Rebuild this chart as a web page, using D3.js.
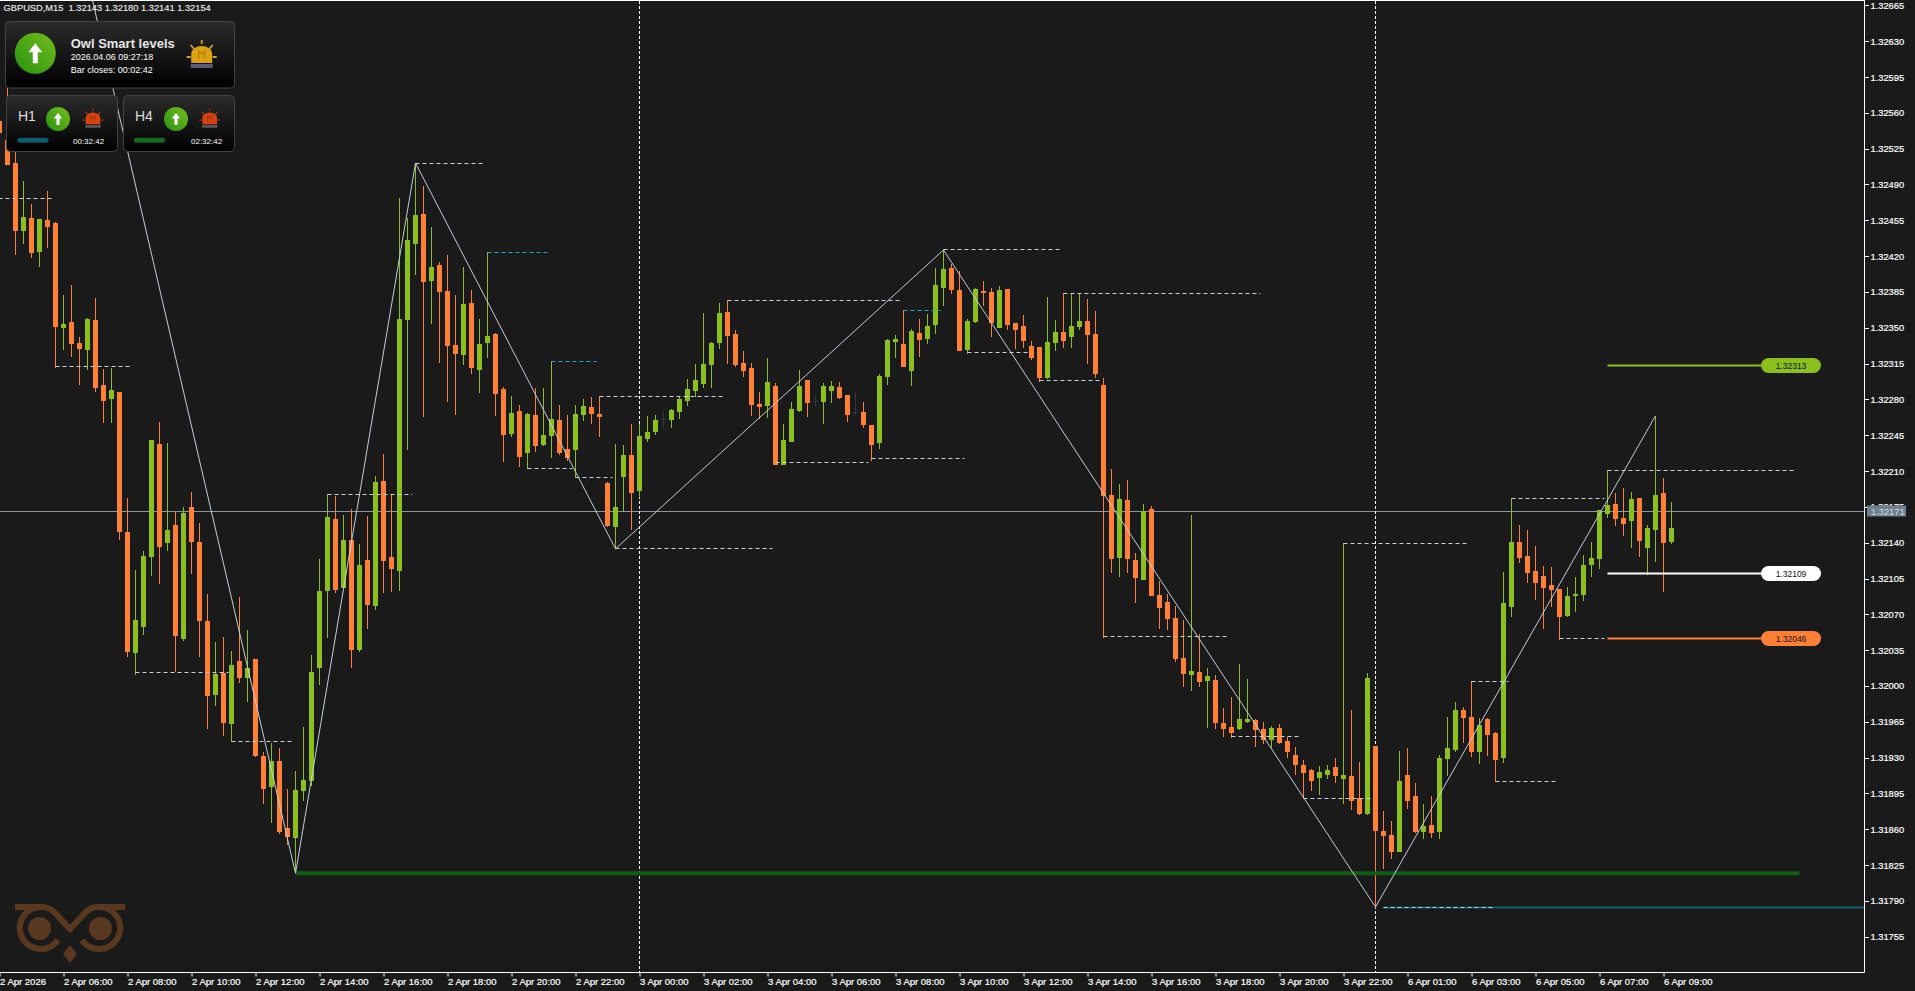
<!DOCTYPE html>
<html><head><meta charset="utf-8">
<script src="https://cdnjs.cloudflare.com/ajax/libs/d3/7.8.5/d3.min.js"></script>
<style>html,body{margin:0;padding:0;background:#1a1a1a;overflow:hidden}svg{display:block}text{font-family:"Liberation Sans",Arial,sans-serif}</style>
</head><body><svg id="c" width="1915" height="991"></svg>
<script>
// All prices below are points above 1.32000 (1 point = 0.00001)
const priceBase = 1.32, pointSize = 0.00001;
const firstBar = -1;
const directions = ("o o o g o g o o g o " + "o g o o g o o g g g " + "o g o g o o o g o g " + "o g o o g o o g g g " +
 "g g o g o g o g o o " + "g g g o g o o o g o " + "g g o o g o g o g g " + "o o g g o o o g g o " +
 "g g g d g g g g g g " + "g o o o o o g o g g " + "g o d g g o o d o o " + "g g g o g o g g g o " +
 "o g g o o g o o o o " + "o g g o g g o o o o " + "g o o g o o o o o g " + "o g o o o g g o o g " +
 "o o o o o g g o g o " + "o g o o o g o o g o " + "g g g o o g o o g g " + "o o o o o o g g g g " +
 "g g o o g o g g o g").trim().split(" ");
const highs = [558,584,522,493,471,456,484,453,382,392,
341,360,379,310,311,287,184,113,132,240,
258,237,171,175,190,159,90,43,48,34,
87,55,26,-65,-56,-61,-101,-83,-40,30,
124,188,186,167,173,139,166,205,227,187,
477,457,511,489,448,414,421,382,409,387,
359,424,345,292,283,275,267,291,291,318,
275,265,275,280,282,283,199,236,235,256,
256,264,265,269,271,282,300,315,364,336,
374,377,348,327,316,287,320,296,256,277,
309,299,284,296,298,297,284,288,277,255,
305,339,343,367,349,359,363,408,426,412,
405,359,389,396,389,391,388,355,362,337,
331,380,358,384,384,384,378,366,301,212,
197,201,130,178,176,103,90,78,64,167,
51,18,11,-22,-11,21,7,-32,-35,-39,
-37,-50,-60,-72,-81,-78,-77,-70,140,-23,
-74,13,-59,-122,-132,-64,-61,-95,-115,-108,
-67,-30,-16,-21,5,-31,-31,-45,111,184,
157,152,137,117,116,95,97,106,128,141,
172,211,189,193,190,184,157,264,203,180];
const bodyTops = [552,533,511,458,457,456,455,452,354,356,
335,359,358,294,289,287,150,64,127,240,
236,152,157,169,175,141,63,12,13,20,
24,18,26,-68,-73,-73,-139,-102,-92,14,
93,165,163,143,143,118,123,199,200,126,
359,436,460,461,409,411,386,333,373,374,
334,342,344,290,267,269,266,265,245,261,
260,232,266,274,273,266,198,175,226,226,
244,248,260,261,270,280,290,299,315,335,
364,365,344,316,311,276,297,293,240,271,
293,299,278,293,293,292,284,268,268,255,
303,338,339,334,347,345,352,392,407,408,
387,357,388,386,385,387,388,355,352,332,
331,336,346,346,352,357,357,344,294,187,
183,182,123,171,173,89,82,66,27,15,
14,10,6,-36,-40,-32,-32,-33,-42,-41,
-41,-54,-67,-77,-82,-84,-82,-79,-87,-88,
-109,8,-59,-142,-146,-93,-87,-108,-137,-136,
-70,-61,-23,-23,-30,-38,-32,-46,81,141,
141,127,112,107,99,95,88,90,118,125,
172,177,178,164,183,184,154,187,189,154];
const bodyBottoms = [541,510,446,446,424,425,449,352,351,335,
330,329,292,279,281,151,34,33,59,127,
137,141,50,47,142,64,-9,-8,-35,-36,
9,9,-67,-100,-98,-142,-147,-148,-102,-92,
19,94,95,97,36,36,80,79,123,115,
113,359,433,396,397,386,333,325,324,312,
310,336,286,246,247,225,229,235,236,245,
229,224,232,266,267,264,157,156,205,190,
191,242,249,261,261,269,279,289,296,315,
336,343,315,309,276,274,275,217,217,239,
270,277,278,278,289,282,266,268,256,236,
238,303,337,313,309,339,340,354,390,388,
328,329,357,385,356,351,354,349,338,321,
302,302,336,338,342,352,344,306,187,125,
126,125,106,105,89,77,66,27,13,12,
5,6,-35,-41,-45,-41,-34,-42,-52,-52,
-55,-64,-76,-84,-92,-89,-86,-87,-90,-111,
-124,-124,-141,-146,-161,-161,-111,-142,-142,-143,
-142,-70,-62,-30,-64,-64,-47,-71,-69,78,
126,111,102,97,95,68,69,89,90,119,
125,169,164,159,162,143,136,153,141,142];
const lows = [533,510,422,433,419,410,429,312,329,322,
295,310,288,258,258,144,29,12,51,108,
101,133,15,45,110,29,-41,-19,-48,-54,
4,-15,-68,-114,-133,-144,-154,-182,-111,-97,
2,48,92,97,19,34,57,75,92,93,
94,232,403,264,355,317,278,266,315,306,
287,321,265,220,244,215,213,230,235,224,
227,221,204,260,257,244,156,135,171,153,
185,239,246,252,253,262,275,283,292,292,
330,316,313,303,265,262,263,217,217,239,
269,264,275,257,277,281,259,266,253,221,
233,295,321,313,294,322,335,345,372,384,
328,325,356,372,342,351,349,330,331,319,
298,301,328,331,331,349,316,302,48,111,
107,111,82,105,89,57,56,24,0,-4,
0,-40,-41,-49,-50,-42,-35,-59,-56,-60,
-56,-69,-86,-109,-102,-106,-90,-94,-114,-120,
-125,-125,-216,-178,-168,-161,-119,-143,-149,-148,
-149,-87,-64,-55,-68,-75,-67,-93,-74,68,
121,102,85,57,78,46,68,73,84,107,
115,165,157,148,136,127,109,122,93,140];
const zigzagBars = [10,36,51,76,117,171,206];
const zigzagPrices = [691,-183,511,134,426,-216,264];
const levelStart = [-2,6,16,28,40,51,65,71,74,90,76,96,108,117,120,129,132,137,153,162,167,172,183,186,188,200,194];
const levelEnd   = [6,16,28,36,51,60,71,76,90,112,96,108,120,132,128,137,157,153,162,171,183,186,188,194,200,224,200];
const levelPrice = [477,313,14,-54,188,511,213,204,283,377,135,219,223,427,326,299,384,49,-49,-109,140,-216,5,-93,184,211,47];
const blueStart = [60,68,112];
const blueEnd = [68,74,117];
const bluePrice = [424,318,367];
const priceTickLabels = ["1.32665","1.32630","1.32595","1.32560","1.32525","1.32490","1.32455","1.32420","1.32385","1.32350","1.32315","1.32280","1.32245","1.32210","1.32175","1.32140","1.32105","1.32070","1.32035","1.32000","1.31965","1.31930","1.31895","1.31860","1.31825","1.31790","1.31755"];
const timeTickBars = [-1,7,15,23,31,39,47,55,63,71,79,87,95,103,111,119,127,135,143,151,159,167,175,183,191,199,207];
const timeTickLabels = ["2 Apr 2026","2 Apr 06:00","2 Apr 08:00","2 Apr 10:00","2 Apr 12:00","2 Apr 14:00","2 Apr 16:00","2 Apr 18:00","2 Apr 20:00","2 Apr 22:00","3 Apr 00:00","3 Apr 02:00","3 Apr 04:00","3 Apr 06:00","3 Apr 08:00","3 Apr 10:00","3 Apr 12:00","3 Apr 14:00","3 Apr 16:00","3 Apr 18:00","3 Apr 20:00","3 Apr 22:00","6 Apr 01:00","6 Apr 03:00","6 Apr 05:00","6 Apr 07:00","6 Apr 09:00"];
const separatorBars = [79,171];
const supportPrice = -183, supportEndBar = 224, supportStartBar = 36;
const tealPrice = -216, tealStartBar = 172;
const currentPrice = 1.32171;
const titleText = "GBPUSD,M15  1.32143 1.32180 1.32141 1.32154";
const pillValues = [1.32313,1.32109,1.32046];
const pillLabels = ["1.32313","1.32109","1.32046"];
const pillColours = ["#8abf1c","#ffffff","#ff7f35"];
const pillStartBar = 200;

const ORANGE="#ff7f35",GREEN="#8abf1c",DARK="#2d3944",BG="#1a1a1a",DASH="#c8d2dc",BLUE="#2f9fd0",ZIG="#c3cedb";
const W=1915,H=991,R=1864,B=972;
const svg=d3.select("#c");
const x=d3.scaleLinear().domain([-1,208]).range([-0.5,1671.5]);
const y=d3.scaleLinear().domain([1.31755,1.32665]).range([936.7,5.4]);
const pts=p=>priceBase+p*pointSize;
const py=p=>Math.round(y(pts(p)))+0.5;
svg.append("rect").attr("width",W).attr("height",H).attr("fill",BG);
const defs=svg.append("defs");
defs.append("clipPath").attr("id","plot").append("rect").attr("x",0).attr("y",1).attr("width",R).attr("height",B-1);
let g1=defs.append("linearGradient").attr("id","panel").attr("x1",0).attr("x2",0).attr("y1",0).attr("y2",1);
g1.append("stop").attr("offset","0").attr("stop-color","#2b2b2b");g1.append("stop").attr("offset","1").attr("stop-color","#000");
let g2=defs.append("linearGradient").attr("id","ball").attr("x1",1).attr("x2",0).attr("y1",0).attr("y2",1);
g2.append("stop").attr("offset","0").attr("stop-color","#74bd1c");g2.append("stop").attr("offset","1").attr("stop-color","#27930f");
const plot=svg.append("g").attr("clip-path","url(#plot)");
plot.append("line").attr("x1",0).attr("x2",R).attr("y1",Math.round(y(currentPrice))+.5).attr("y2",Math.round(y(currentPrice))+.5).attr("stroke","#8696a5");
plot.selectAll(".sep").data(separatorBars).join("line").attr("x1",d=>x(d)).attr("x2",d=>x(d)).attr("y1",1).attr("y2",B).attr("stroke","#fff").attr("stroke-dasharray","3,2");
const owl=plot.append("g").attr("fill","none").attr("stroke","#5a3820").attr("stroke-width",6);
owl.append("path").attr("d","M15,907 H42 Q50,907 56,914 L70,929 L84,914 Q90,907 98,907 H125");
owl.append("path").attr("d","M40,907 A21,21 0 1 0 58,940");
owl.append("path").attr("d","M100,907 A21,21 0 1 1 82,940");
owl.append("circle").attr("cx",39.5).attr("cy",928.5).attr("r",11.5).attr("fill","#5a3820").attr("stroke","none");
owl.append("circle").attr("cx",100.5).attr("cy",928.5).attr("r",11.5).attr("fill","#5a3820").attr("stroke","none");
owl.append("path").attr("d","M70,945 L77,954 L70,963 L63,954 Z").attr("fill","#5a3820").attr("stroke","none");
const bars=highs.map((h,k)=>({i:k+firstBar,h,t:bodyTops[k],b:bodyBottoms[k],l:lows[k],d:directions[k]}));
const col=d=>d.d==="o"?ORANGE:d.d==="g"?GREEN:DARK;
plot.selectAll(".w").data(bars).join("line").attr("x1",d=>x(d.i)).attr("x2",d=>x(d.i)).attr("y1",d=>py(d.h)-.5).attr("y2",d=>py(d.l)+.5).attr("stroke",col);
plot.selectAll(".b").data(bars).join("rect").attr("x",d=>x(d.i)-2.5).attr("width",5).attr("y",d=>py(d.t)-.5).attr("height",d=>Math.max(1,py(d.b)-py(d.t)+1)).attr("fill",col);
plot.append("line").attr("x1",x(supportStartBar)).attr("x2",x(supportEndBar)).attr("y1",y(pts(supportPrice))).attr("y2",y(pts(supportPrice))).attr("stroke","#0f5c14").attr("stroke-width",4);
plot.append("line").attr("x1",x(tealStartBar)).attr("x2",R).attr("y1",py(tealPrice)).attr("y2",py(tealPrice)).attr("stroke","#0e5a6e").attr("stroke-width",2);
const endGap=3;
plot.selectAll(".lv").data(levelPrice).join("line").attr("x1",(d,k)=>x(levelStart[k])).attr("x2",(d,k)=>x(levelEnd[k])-endGap).attr("y1",d=>py(d)).attr("y2",d=>py(d)).attr("stroke",DASH).attr("stroke-dasharray","4,3");
plot.selectAll(".bl").data(bluePrice).join("line").attr("x1",(d,k)=>x(blueStart[k])).attr("x2",(d,k)=>x(blueEnd[k])-endGap).attr("y1",d=>py(d)).attr("y2",d=>py(d)).attr("stroke",BLUE).attr("stroke-dasharray","4,3");
const zig=d3.line().x(d=>x(d[0])).y(d=>y(pts(d[1])));
plot.append("path").attr("d",zig(zigzagBars.map((b,k)=>[b,zigzagPrices[k]]))).attr("fill","none").attr("stroke",ZIG).attr("stroke-width",1);
const pills=plot.append("g");
pillValues.forEach((v,k)=>{const yy=Math.round(y(v))-.5;
 pills.append("line").attr("x1",x(pillStartBar)).attr("x2",1765).attr("y1",yy).attr("y2",yy).attr("stroke",pillColours[k]).attr("stroke-width",2);
 pills.append("rect").attr("x",1761).attr("y",yy-7.5).attr("width",60).attr("height",15).attr("rx",7.5).attr("fill",pillColours[k]);
 pills.append("text").attr("x",1791).attr("y",yy+3).attr("text-anchor","middle").attr("font-size",8.5).attr("fill","#111").text(pillLabels[k]);
});
const axR=d3.axisRight(y).tickValues(priceTickLabels.map(Number)).tickFormat((d,k)=>priceTickLabels[k]).tickSize(4).tickPadding(2);
const gy=svg.append("g").attr("transform",`translate(${R+.5},0)`).call(axR);
gy.select(".domain").remove();
gy.selectAll("line").attr("stroke","#fff").attr("shape-rendering","crispEdges");
gy.selectAll("text").attr("fill","#fff").attr("font-size",9.3).attr("font-family","Liberation Sans").attr("stroke","#fff").attr("stroke-width",.2);
svg.append("line").attr("x1",R+.5).attr("x2",R+.5).attr("y1",0).attr("y2",B+.5).attr("stroke","#fff");
svg.append("line").attr("x1",0).attr("x2",R+.5).attr("y1",.5).attr("y2",.5).attr("stroke","#fff");
const axB=d3.axisBottom(x).tickValues(timeTickBars).tickFormat((d,k)=>timeTickLabels[k]).tickSize(4).tickPadding(2);
const gx=svg.append("g").attr("transform",`translate(0,${B+.5})`).call(axB);
gx.select(".domain").remove();
gx.selectAll("line").attr("stroke","#fff");
gx.selectAll("text").attr("fill","#fff").attr("font-size",9.5).attr("text-anchor","start").attr("font-family","Liberation Sans").attr("stroke","#fff").attr("stroke-width",.2);
svg.append("line").attr("x1",0).attr("x2",R+.5).attr("y1",B+.5).attr("y2",B+.5).attr("stroke","#fff");
const cy=Math.round(y(currentPrice));
svg.append("rect").attr("x",1867).attr("y",cy-5.5).attr("width",39).attr("height",11).attr("fill","#6f7f8e");
svg.append("text").attr("x",1871).attr("y",cy+3.5).attr("font-size",9.3).attr("fill","#d5dbe0").text(currentPrice.toFixed(5));
svg.append("text").attr("x",3.5).attr("y",11).attr("font-size",9.3).attr("fill","#e8e8e8").attr("stroke","#e8e8e8").attr("stroke-width",.15).style("white-space","pre").text(titleText);
function alarm(g,cx,cy,s,body,mark,base,ray){
 const a=g.append("g").attr("transform",`translate(${cx},${cy}) scale(${s})`);
 a.append("path").attr("d","M-10.5,9 V0 A10.5,8 0 0 1 10.5,0 V9 Z").attr("fill",body);
 a.append("path").attr("d","M-3,5 V-3 L0,0 L3,-3 V5").attr("fill","none").attr("stroke",mark).attr("stroke-width",1.5);
 a.append("rect").attr("x",-11).attr("y",10).attr("width",22).attr("height",4).attr("fill",base);
 a.append("path").attr("d","M0,-14 V-10 M-11,-9 L-7.7,-5 M11,-9 L7.7,-5 M-15,3 H-11 M15,3 H11").attr("stroke",ray).attr("stroke-width",1.8).attr("fill","none");
}
function arrow(g,cx,cy,r,s){
 g.append("circle").attr("cx",cx).attr("cy",cy).attr("r",r).attr("fill","url(#ball)");
 g.append("path").attr("transform",`translate(${cx},${cy}) scale(${s})`).attr("d","M0,-10 L7,-1 H2.5 V10 H-2.5 V-1 H-7 Z").attr("fill","#fff");
}
const p=svg.append("g");
const panel=(x0,y0,w,h)=>p.append("rect").attr("x",x0).attr("y",y0).attr("width",w).attr("height",h).attr("rx",4).attr("fill","url(#panel)").attr("stroke","#444");
panel(5.5,21.5,229,66.5);
arrow(p,35.3,53.3,20.5,1);
p.append("text").attr("x",70.7).attr("y",48).attr("font-size",13).attr("font-weight","bold").attr("fill","#e6e6e6").attr("font-family","Open Sans").text("Owl Smart levels");
p.append("text").attr("x",70.7).attr("y",60).attr("font-size",9).attr("fill","#fff").text("2026.04.06 09:27:18");
p.append("text").attr("x",70.7).attr("y",73).attr("font-size",9).attr("fill","#fff").text("Bar closes: 00:02:42");
alarm(p,201.7,54,1,"#dca30e","#b8860b","#5a5a78","#c9a437");
[[6,18,58,93,17.5,"#0e5a6e",73,"00:32:42"],[123,135,176,209.7,134,"#116a1e",191,"02:32:42"]].forEach(a=>{
 panel(a[0]+.5,95.5,111,56);
 p.append("text").attr("x",a[1]).attr("y",121).attr("font-size",14).attr("fill","#ddd").text(a[0]===6?"H1":"H4");
 arrow(p,a[2],119,12,.6);
 alarm(p,a[3],118,.7,"#d6430e","#a8330a","#555","#8e3a20");
 p.append("rect").attr("x",a[4]).attr("y",137.7).attr("width",31).attr("height",5).attr("rx",2.5).attr("fill",a[5]);
 p.append("text").attr("x",a[6]).attr("y",144).attr("font-size",8).attr("fill","#fff").text(a[7]);
});
</script></body></html>
